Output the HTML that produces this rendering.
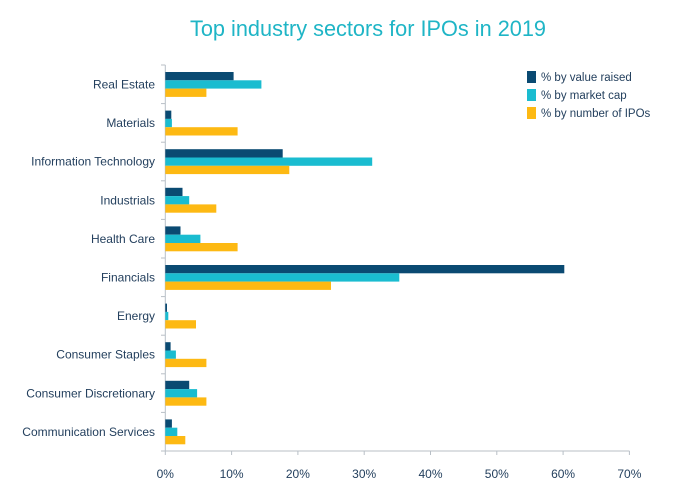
<!DOCTYPE html>
<html><head><meta charset="utf-8"><style>
html,body{margin:0;padding:0;background:#fff;width:700px;height:500px;overflow:hidden}
text{font-family:"Liberation Sans",sans-serif}
</style></head><body>
<svg width="700" height="500" viewBox="0 0 700 500" xmlns="http://www.w3.org/2000/svg">
<text x="368" y="36" text-anchor="middle" font-size="22" fill="#1fb5c6" textLength="356" lengthAdjust="spacingAndGlyphs">Top industry sectors for IPOs in 2019</text>
<g stroke="#b8bfc6" stroke-width="1">
<line x1="165.3" y1="65" x2="165.3" y2="451"/>
<line x1="165.3" y1="451" x2="629.5" y2="451"/>
<line x1="161" y1="65" x2="165.3" y2="65"/><line x1="161" y1="103.6" x2="165.3" y2="103.6"/><line x1="161" y1="142.2" x2="165.3" y2="142.2"/><line x1="161" y1="180.8" x2="165.3" y2="180.8"/><line x1="161" y1="219.4" x2="165.3" y2="219.4"/><line x1="161" y1="258" x2="165.3" y2="258"/><line x1="161" y1="296.6" x2="165.3" y2="296.6"/><line x1="161" y1="335.2" x2="165.3" y2="335.2"/><line x1="161" y1="373.8" x2="165.3" y2="373.8"/><line x1="161" y1="412.4" x2="165.3" y2="412.4"/><line x1="161" y1="451" x2="165.3" y2="451"/>
<line x1="165.3" y1="451" x2="165.3" y2="455"/><line x1="231.6" y1="451" x2="231.6" y2="455"/><line x1="297.9" y1="451" x2="297.9" y2="455"/><line x1="364.2" y1="451" x2="364.2" y2="455"/><line x1="430.5" y1="451" x2="430.5" y2="455"/><line x1="496.8" y1="451" x2="496.8" y2="455"/><line x1="563.1" y1="451" x2="563.1" y2="455"/><line x1="629.4" y1="451" x2="629.4" y2="455"/>
</g>
<g font-size="12" fill="#24405e" text-anchor="middle">
<text x="165.3" y="478">0%</text><text x="231.6" y="478">10%</text><text x="297.9" y="478">20%</text><text x="364.2" y="478">30%</text><text x="430.5" y="478">40%</text><text x="496.8" y="478">50%</text><text x="563.1" y="478">60%</text><text x="629.4" y="478">70%</text>
</g>
<g font-size="12" fill="#24405e" text-anchor="end">
<text x="155" y="88.5">Real Estate</text>
<text x="155" y="127.1">Materials</text>
<text x="155" y="165.7">Information Technology</text>
<text x="155" y="204.3">Industrials</text>
<text x="155" y="242.9">Health Care</text>
<text x="155" y="281.5">Financials</text>
<text x="155" y="320.1">Energy</text>
<text x="155" y="358.7">Consumer Staples</text>
<text x="155" y="397.3">Consumer Discretionary</text>
<text x="155" y="435.9">Communication Services</text>
</g>
<g>
<!-- Real Estate -->
<rect x="165.3" y="72" width="68.3" height="8.3" fill="#0a4a72"/><rect x="165.3" y="80.3" width="96.1" height="8.3" fill="#1abcd0"/><rect x="165.3" y="88.6" width="41.1" height="8.3" fill="#fdb913"/>
<!-- Materials -->
<rect x="165.3" y="110.6" width="6" height="8.3" fill="#0a4a72"/><rect x="165.3" y="118.9" width="6.6" height="8.3" fill="#1abcd0"/><rect x="165.3" y="127.2" width="72.3" height="8.3" fill="#fdb913"/>
<!-- IT -->
<rect x="165.3" y="149.2" width="117.4" height="8.3" fill="#0a4a72"/><rect x="165.3" y="157.5" width="206.9" height="8.3" fill="#1abcd0"/><rect x="165.3" y="165.8" width="124" height="8.3" fill="#fdb913"/>
<!-- Industrials -->
<rect x="165.3" y="187.8" width="17.2" height="8.3" fill="#0a4a72"/><rect x="165.3" y="196.1" width="23.9" height="8.3" fill="#1abcd0"/><rect x="165.3" y="204.4" width="51" height="8.3" fill="#fdb913"/>
<!-- Health Care -->
<rect x="165.3" y="226.4" width="15.2" height="8.3" fill="#0a4a72"/><rect x="165.3" y="234.7" width="35.1" height="8.3" fill="#1abcd0"/><rect x="165.3" y="243" width="72.3" height="8.3" fill="#fdb913"/>
<!-- Financials -->
<rect x="165.3" y="265" width="399" height="8.3" fill="#0a4a72"/><rect x="165.3" y="273.3" width="234" height="8.3" fill="#1abcd0"/><rect x="165.3" y="281.6" width="165.7" height="8.3" fill="#fdb913"/>
<!-- Energy -->
<rect x="165.3" y="303.6" width="1.7" height="8.3" fill="#0a4a72"/><rect x="165.3" y="311.9" width="3" height="8.3" fill="#1abcd0"/><rect x="165.3" y="320.2" width="30.7" height="8.3" fill="#fdb913"/>
<!-- Staples -->
<rect x="165.3" y="342.2" width="5.3" height="8.3" fill="#0a4a72"/><rect x="165.3" y="350.5" width="10.6" height="8.3" fill="#1abcd0"/><rect x="165.3" y="358.8" width="41.1" height="8.3" fill="#fdb913"/>
<!-- Discretionary -->
<rect x="165.3" y="380.8" width="23.9" height="8.3" fill="#0a4a72"/><rect x="165.3" y="389.1" width="31.8" height="8.3" fill="#1abcd0"/><rect x="165.3" y="397.4" width="41.1" height="8.3" fill="#fdb913"/>
<!-- Comm -->
<rect x="165.3" y="419.4" width="6.6" height="8.3" fill="#0a4a72"/><rect x="165.3" y="427.7" width="12" height="8.3" fill="#1abcd0"/><rect x="165.3" y="436" width="20" height="8.3" fill="#fdb913"/>
</g>
<g font-size="11.5" fill="#24405e">
<rect x="527" y="71" width="9" height="12" fill="#0a4a72"/><text x="541" y="81">% by value raised</text>
<rect x="527" y="89" width="9" height="12" fill="#1abcd0"/><text x="541" y="99">% by market cap</text>
<rect x="527" y="107" width="9" height="12" fill="#fdb913"/><text x="541" y="117">% by number of IPOs</text>
</g>
</svg>
</body></html>
